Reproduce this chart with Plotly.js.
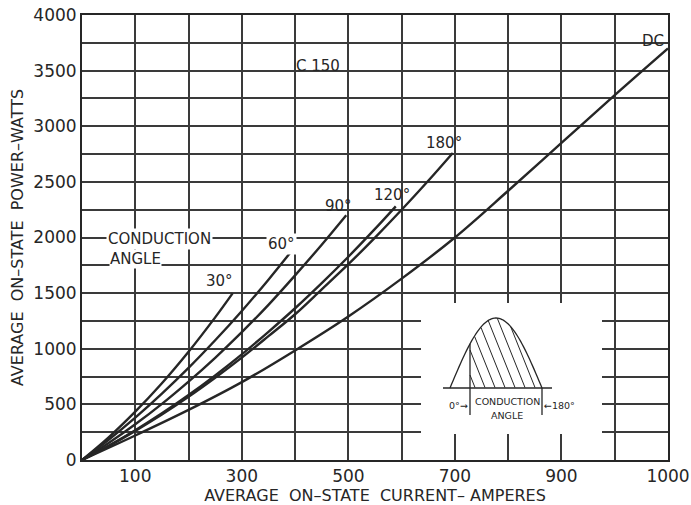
<!DOCTYPE html>
<html>
<head>
<meta charset="utf-8">
<script src="https://cdn.plot.ly/plotly-3.0.1.min.js"></script>
<style>
html,body{margin:0;padding:0;background:#fff;}
#chart{width:691px;height:505px;}
</style>
</head>
<body>
<div id="chart"></div>
<script>
// ---- data (x in axis units: one grid step = 100; last label reads "1000") ----
const current30 = [0, 50, 100, 150, 200, 250, 283];
const power30   = [0, 204, 435, 690, 973, 1282, 1500];

const current60 = [0, 50, 100, 150, 200, 250, 300, 350, 397];
const power60   = [0, 182, 381, 597, 828, 1076, 1340, 1621, 1900];

const current90 = [0, 50, 100, 150, 200, 250, 300, 350, 400, 450, 496];
const power90   = [0, 153, 321, 505, 705, 919, 1149, 1395, 1660, 1935, 2200];

const current120 = [0, 50, 100, 150, 200, 250, 300, 350, 400, 450, 500, 550, 589];
const power120   = [0, 128, 268, 420, 584, 761, 950, 1152, 1364, 1590, 1827, 2077, 2280];

const current180 = [0, 50, 100, 150, 200, 250, 300, 350, 400, 450, 500, 550, 600, 650, 696];
const power180   = [0, 125, 262, 409, 568, 739, 920, 1113, 1310, 1534, 1760, 1999, 2249, 2510, 2760];

const currentDC = [0, 100, 200, 300, 400, 500, 600, 700, 800, 900, 1000, 1100];
const powerDC   = [0, 220, 450, 700, 985, 1290, 1630, 2000, 2420, 2850, 3280, 3700];

// grid positions and tick labels (blank text = grid line only)
const xTickVals = [0, 100, 200, 300, 400, 500, 600, 700, 800, 900, 1000, 1100];
const xTickText = ["", "100", "", "300", "", "500", "", "700", "", "900", "", "1000"];
const yTickVals = [0, 250, 500, 750, 1000, 1250, 1500, 1750, 2000, 2250, 2500, 2750, 3000, 3250, 3500, 3750, 4000];
const yTickText = ["0", "", "500", "", "1000", "", "1500", "", "2000", "", "2500", "", "3000", "", "3500", "", "4000"];

const curveLabels = ["30°", "60°", "90°", "120°", "180°", "DC"];

// ---- styling ----
const INK = "#262626";
const GRID = "#3a3a3a";
const FONT = "DejaVu Sans";

function curve(x, y) {
  return {x: x, y: y, type: "scatter", mode: "lines",
    line: {color: INK, width: 2.4, shape: "spline", smoothing: 1},
    hoverinfo: "skip", showlegend: false};
}
const traces = [
  curve(current30, power30), curve(current60, power60), curve(current90, power90),
  curve(current120, power120), curve(current180, power180), curve(currentDC, powerDC)
];

// plot-area pixel helpers for the inset sketch (plot area 82..668 x 15..460)
const L = 82, R = 668, T = 15, B = 460;
const px = v => (v - L) / (R - L);
const py = v => (B - v) / (B - T);

// inset sine sketch
const x0s = 450, x1s = 542, base = 388, amp = 70;
const hump = xx => base - amp * Math.sin(Math.PI * (xx - x0s) / (x1s - x0s));
let humpPath = "";
for (let i = 0; i <= 60; i++) {
  const xx = x0s + (x1s - x0s) * i / 60;
  humpPath += (i ? " L" : "M") + px(xx).toFixed(5) + "," + py(hump(xx)).toFixed(5);
}
const cut = 470;
let hatch = "";
for (let c = cut - 150; c < x1s; c += 10) {
  let first = null, last = null;
  for (let xx = cut; xx <= x1s; xx += 0.25) {
    const yy = 2.5 * (xx - c);
    if (yy >= hump(xx) && yy <= base) { if (!first) first = [xx, yy]; last = [xx, yy]; }
  }
  if (first && last && (last[0] - first[0]) > 1) {
    hatch += "M" + px(first[0]).toFixed(5) + "," + py(first[1]).toFixed(5) +
             " L" + px(last[0]).toFixed(5) + "," + py(last[1]).toFixed(5) + " ";
  }
}

const shapes = [
  {type: "rect", xref: "paper", yref: "paper", x0: px(421), x1: px(602), y0: py(434), y1: py(303),
   fillcolor: "#ffffff", line: {width: 0}, layer: "above"},
  {type: "line", xref: "paper", yref: "paper", x0: px(443), x1: px(552), y0: py(base), y1: py(base),
   line: {color: INK, width: 1.3}, layer: "above"},
  {type: "path", xref: "paper", yref: "paper", path: humpPath, line: {color: INK, width: 1.3}, layer: "above"},
  {type: "path", xref: "paper", yref: "paper", path: hatch, line: {color: INK, width: 1}, layer: "above"},
  {type: "line", xref: "paper", yref: "paper", x0: px(cut), x1: px(cut), y0: py(hump(cut)), y1: py(415),
   line: {color: INK, width: 1.3}, layer: "above"},
  {type: "line", xref: "paper", yref: "paper", x0: px(x1s), x1: px(x1s), y0: py(base), y1: py(415),
   line: {color: INK, width: 1.3}, layer: "above"}
];

function lab(text, x, y, opts) {
  return Object.assign({text: text, x: x, y: y, xref: "x", yref: "y", showarrow: false,
    xanchor: "center", yanchor: "middle",
    font: {family: FONT, size: 15, color: INK}}, opts || {});
}
function inset(text, x, y, size, anchor) {
  return {text: text, xref: "paper", yref: "paper", x: px(x), y: py(y), showarrow: false,
    xanchor: anchor, yanchor: "middle", font: {family: FONT, size: size, color: INK}};
}
const annotations = [
  lab("C 150", 443, 3540),
  lab(curveLabels[5], 1072, 3765),
  lab(curveLabels[4], 680, 2850),
  lab(curveLabels[3], 582, 2380),
  lab(curveLabels[2], 481, 2283),
  lab(curveLabels[1], 374, 1945, {bgcolor: "#ffffff", borderpad: 1}),
  lab(curveLabels[0], 259, 1610),
  lab("CONDUCTION", 146, 1985, {bgcolor: "#ffffff", borderpad: 1}),
  lab("ANGLE", 101, 1805, {bgcolor: "#ffffff", borderpad: 0}),
  inset("CONDUCTION", 507, 401, 9.5, "center"),
  inset("ANGLE", 507, 415, 9.5, "center"),
  inset("0°→", 470, 405, 9.5, "right"),
  inset("←180°", 542, 405, 9.5, "left")
];

const axisCommon = {
  showgrid: true, gridcolor: GRID, gridwidth: 1.5,
  showline: true, linecolor: INK, linewidth: 2, mirror: true,
  zeroline: false, ticks: "", fixedrange: true, tickmode: "array",
  tickfont: {family: FONT, size: 17, color: INK}
};

const layout = {
  width: 691, height: 505,
  margin: {l: L, r: 691 - R, t: T, b: 505 - B},
  paper_bgcolor: "#ffffff", plot_bgcolor: "#ffffff",
  showlegend: false,
  xaxis: Object.assign({}, axisCommon, {
    range: [0, 1100], tickvals: xTickVals, ticktext: xTickText,
    title: {text: "AVERAGE  ON–STATE  CURRENT– AMPERES", standoff: 2,
            font: {family: FONT, size: 16, color: INK}}
  }),
  yaxis: Object.assign({}, axisCommon, {
    range: [0, 4000], tickvals: yTickVals, ticktext: yTickText,
    title: {text: "AVERAGE  ON–STATE  POWER–WATTS", standoff: 6,
            font: {family: FONT, size: 16, color: INK}}
  }),
  shapes: shapes,
  annotations: annotations
};

Plotly.newPlot("chart", traces, layout, {displayModeBar: false});
</script>
</body>
</html>
